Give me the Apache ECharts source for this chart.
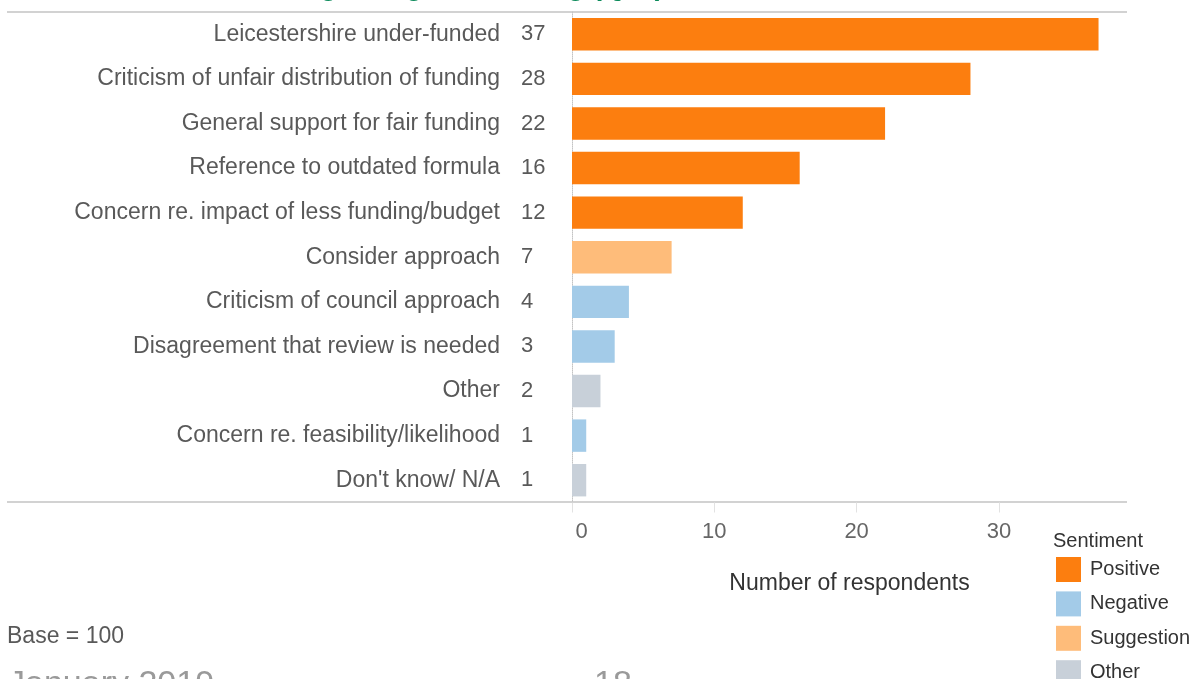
<!DOCTYPE html>
<html>
<head>
<meta charset="utf-8">
<script src="https://cdn.jsdelivr.net/npm/echarts@6/dist/echarts.min.js"></script>
<style>
  html, body { margin: 0; padding: 0; background: #ffffff; }
  #chart { width: 1198px; height: 679px; }
</style>
</head>
<body>
<div id="chart"></div>
<script>
// Comment themes, ordered as they are listed (largest first)
const categories = [
  'Leicestershire under-funded',
  'Criticism of unfair distribution of funding',
  'General support for fair funding',
  'Reference to outdated formula',
  'Concern re. impact of less funding/budget',
  'Consider approach',
  'Criticism of council approach',
  'Disagreement that review is needed',
  'Other',
  'Concern re. feasibility/likelihood',
  "Don't know/ N/A"
];
// Number of respondents per theme
const values = [37, 28, 22, 16, 12, 7, 4, 3, 2, 1, 1];
// Sentiment group of each theme
const sentiments = [
  'Positive', 'Positive', 'Positive', 'Positive', 'Positive',
  'Suggestion', 'Negative', 'Negative', 'Other', 'Negative', 'Other'
];
// Legend order and colours
const sentimentNames = ['Positive', 'Negative', 'Suggestion', 'Other'];
const sentimentColors = ['#FC7E0F', '#A3CBE8', '#FEBC7A', '#C8D0D9'];
const xTicks = [0, 10, 20, 30];

const FONT = "'Liberation Sans', Arial, Helvetica, sans-serif";

const chart = echarts.init(document.getElementById('chart'), null, { renderer: 'canvas' });

const series = sentimentNames.map((name, k) => ({
  name: name,
  type: 'bar',
  stack: 'themes',
  barWidth: '72.7%',
  itemStyle: { color: sentimentColors[k] },
  emphasis: { disabled: true },
  data: values.map((v, i) => (sentiments[i] === name ? v : '-'))
}));

const option = {
  animation: false,
  backgroundColor: '#ffffff',
  textStyle: { fontFamily: FONT },
  grid: { left: 572, right: 71, top: 12, bottom: 176.5, containLabel: false },
  xAxis: {
    type: 'value',
    min: 0,
    max: 39,
    interval: 10,
    name: 'Number of respondents',
    nameLocation: 'middle',
    nameGap: 70,
    nameTextStyle: { fontFamily: FONT, fontSize: 23, color: '#333333' },
    axisLine: { show: false },
    axisTick: { show: true, length: 10, lineStyle: { color: '#e2e2e2', width: 1 } },
    splitLine: { show: false },
    axisLabel: {
      margin: 18,
      showMaxLabel: false,
      fontFamily: FONT,
      fontSize: 22,
      color: '#666666',
      formatter: v => (xTicks.indexOf(v) === 0 ? '{z|' + v + '}' : String(v)),
      rich: { z: { fontFamily: FONT, fontSize: 22, color: '#666666', padding: [0, 0, 0, 19] } }
    }
  },
  yAxis: [
    {
      // theme names, right-aligned before the value column
      type: 'category',
      inverse: true,
      data: categories,
      axisLine: { show: true, lineStyle: { color: '#c4c4c4', type: 'dotted', width: 1 } },
      axisTick: { show: false },
      splitLine: { show: false },
      axisLabel: { margin: 72, fontFamily: FONT, fontSize: 23, color: '#595959' }
    },
    {
      // respondent counts, left-aligned in their own column
      type: 'category',
      inverse: true,
      position: 'left',
      data: categories,
      axisLine: { show: false },
      axisTick: { show: false },
      splitLine: { show: false },
      axisLabel: {
        margin: 51,
        align: 'left',
        fontFamily: FONT,
        fontSize: 22,
        color: '#595959',
        formatter: (name, idx) => String(values[idx])
      }
    }
  ],
  legend: {
    orient: 'vertical',
    left: 1056,
    top: 557,
    height: 160,
    padding: 0,
    itemWidth: 25,
    itemHeight: 25,
    itemGap: 9.4,
    icon: 'rect',
    selectedMode: false,
    data: sentimentNames,
    textStyle: { fontFamily: FONT, fontSize: 20, color: '#333333', padding: [0, 0, 0, 4] }
  },
  series: series,
  graphic: [
    // chart heading, mostly above the visible area
    {
      type: 'text', x: 664, y: -13, silent: true,
      style: {
        text: 'Further comments regarding fair funding (Q10)',
        fill: '#0B8A5A', font: 'bold 28px ' + FONT,
        align: 'right', verticalAlign: 'middle', lineHeight: 28
      }
    },
    // top and bottom rules across the full table width
    { type: 'rect', silent: true, shape: { x: 7, y: 11, width: 1120, height: 2 }, style: { fill: '#d2d2d2' } },
    { type: 'rect', silent: true, shape: { x: 7, y: 501, width: 1120, height: 2 }, style: { fill: '#d2d2d2' } },
    {
      type: 'text', x: 1053, y: 541, silent: true,
      style: { text: 'Sentiment', fill: '#333333', font: '20px ' + FONT, verticalAlign: 'middle' }
    },
    {
      type: 'text', x: 7, y: 637, silent: true,
      style: { text: 'Base = 100', fill: '#595959', font: '23px ' + FONT, verticalAlign: 'middle' }
    },
    {
      type: 'text', x: 8, y: 685, silent: true,
      style: { text: 'January 2019', fill: '#9a9a9a', font: '34px ' + FONT, verticalAlign: 'middle', lineHeight: 34 }
    },
    {
      type: 'text', x: 594, y: 685, silent: true,
      style: { text: '18', fill: '#9a9a9a', font: '34px ' + FONT, verticalAlign: 'middle', lineHeight: 34 }
    }
  ]
};

chart.setOption(option);
</script>
</body>
</html>
